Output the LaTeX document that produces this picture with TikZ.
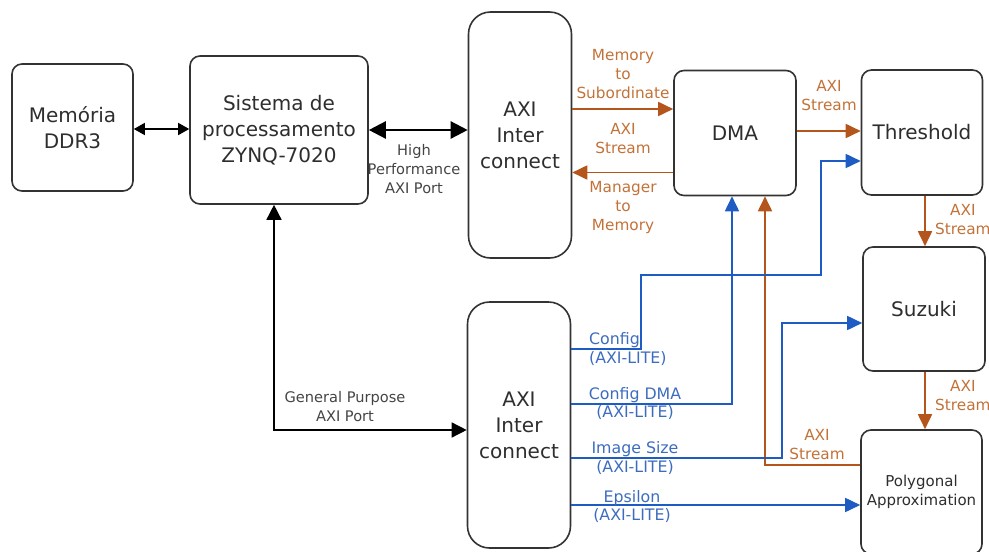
\documentclass[tikz,border=0pt]{standalone}
\usepackage{fontspec}
\setmainfont{DejaVu Sans}
\usetikzlibrary{arrows.meta}
\definecolor{boxline}{HTML}{333333}
\definecolor{boxtext}{HTML}{2E2E2E}
\definecolor{axiorange}{HTML}{B4561C}
\definecolor{orangetext}{HTML}{C27238}
\definecolor{axiblue}{HTML}{1E5CC4}
\definecolor{bluetext}{HTML}{3C6CBE}
\definecolor{labelgray}{HTML}{444444}

% arrow tips used by the connectors
\tikzset{
  smalltri/.tip={Triangle[length=11pt,width=12pt]},
  bigtri/.tip={Triangle[length=17pt,width=17pt]},
  midtri/.tip={Triangle[length=15pt,width=15pt]},
  flowtri/.tip={Triangle[length=15pt,width=14pt]}
}

\begin{document}
\begin{tikzpicture}[x=1pt,y=-1pt,
  block/.style={draw=boxline, line width=1.6pt, rounded corners=10pt, fill=white,
    align=center, inner sep=0pt, text=boxtext, font=\fontsize{20}{26}\selectfont},
  bus/.style={block, rounded corners=22pt, minimum width=103pt, minimum height=246pt},
  blackline/.style={draw=black, line width=1.5pt},
  streamline/.style={draw=axiorange, line width=1.8pt, -{flowtri}},
  liteline/.style={draw=axiblue, line width=1.7pt, -{flowtri}},
  portlabel/.style={text=labelgray, align=center, inner sep=0pt, font=\fontsize{14.6}{19}\selectfont},
  streamlabel/.style={text=orangetext, align=center, inner sep=0pt, font=\fontsize{15.3}{19}\selectfont},
  litelabel/.style={text=bluetext, align=center, inner sep=0pt, font=\fontsize{15.8}{18.5}\selectfont}
]
\useasboundingbox (0,0) rectangle (989,552);

% processing side
\node[block, minimum width=121pt, minimum height=127pt] (mem) at (72.5,127.5) {Memória\\DDR3};
\node[block, minimum width=178pt, minimum height=148pt] (sys) at (279,130) {Sistema de\\processamento\\ZYNQ-7020};

% interconnects
\node[bus] (hpic) at (520,135) {AXI\\Inter\\connect};
\node[bus] (gpic) at (519,425) {AXI\\Inter\\connect};

% programmable logic cores
\node[block, minimum width=122pt, minimum height=125pt] (dma) at (735,133) {DMA};
\node[block, minimum width=121pt, minimum height=125pt] (thr) at (922,132.5) {Threshold};
\node[block, minimum width=122pt, minimum height=124pt] (suz) at (924,309) {Suzuki};
\node[block, minimum width=121pt, minimum height=124pt, font=\fontsize{15}{19}\selectfont] (poly) at (921.5,492) {Polygonal\\Approximation};

% PS connections
\draw[blackline, {smalltri}-{smalltri}] (mem.east |- 0,129) -- (sys.west |- 0,129);
\draw[blackline, line width=2.4pt, {bigtri}-{bigtri}] (sys.east |- 0,130) -- (hpic.west |- 0,130);
\node[portlabel] (hplab) at (414,169) {High\\Performance\\AXI Port};
\draw[blackline, {midtri}-{midtri}] (sys.south -| 274,0) |- (gpic.west |- 0,430);
\node[portlabel] (gplab) at (345,407) {General Purpose\\AXI Port};

% AXI stream paths
\draw[streamline] (hpic.east |- 0,109) -- (dma.west |- 0,109);
\node[streamlabel] (mm2s) at (623,74) {Memory\\to\\Subordinate};
\draw[streamline] (dma.west |- 0,172.5) -- (hpic.east |- 0,172.5);
\node[streamlabel] (s2mmstream) at (623,138.5) {AXI\\Stream};
\node[streamlabel] (s2mm) at (623,207.5) {Manager\\to\\Memory};
\draw[streamline] (dma.east |- 0,131) -- (thr.west |- 0,131);
\node[streamlabel] (st1) at (829,95.5) {AXI\\Stream};
\draw[streamline] (thr.south -| 925,0) -- (suz.north -| 925,0);
\node[streamlabel, anchor=west] (st2) at (935,219.5) {AXI\\Stream};
\draw[streamline] (suz.south -| 925,0) -- (poly.north -| 925,0);
\node[streamlabel, anchor=west] (st3) at (935,396) {AXI\\Stream};
\draw[streamline] (poly.west |- 0,465) -| (dma.south -| 765,0);
\node[streamlabel] (st4) at (817,444.5) {AXI\\Stream};

% AXI-Lite configuration paths
\draw[liteline] (gpic.east |- 0,349) -| (641,275) -| (821,161) -- (thr.west |- 0,161);
\node[litelabel, anchor=west, align=left] (cfg) at (589,349) {Config\\(AXI-LITE)};
\draw[liteline] (gpic.east |- 0,404) -| (dma.south -| 732,0);
\node[litelabel] (cfgdma) at (635,403.5) {Config DMA\\(AXI-LITE)};
\draw[liteline] (gpic.east |- 0,458) -| (782,323) -- (suz.west |- 0,323);
\node[litelabel] (imgsz) at (635,458) {Image Size\\(AXI-LITE)};
\draw[liteline] (gpic.east |- 0,505) -- (poly.west |- 0,505);
\node[litelabel] (eps) at (632,506.5) {Epsilon\\(AXI-LITE)};
\end{tikzpicture}
\end{document}
